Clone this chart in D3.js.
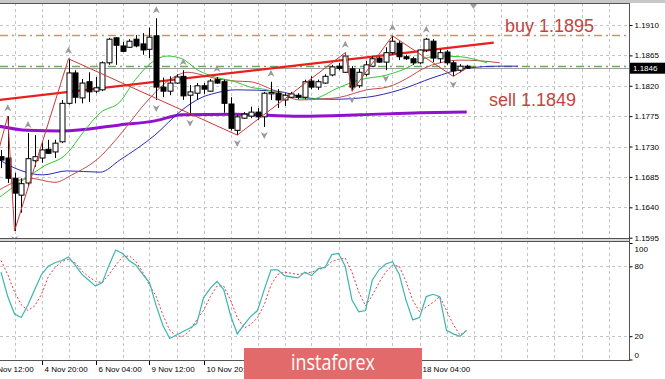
<!DOCTYPE html>
<html><head><meta charset="utf-8">
<script src="https://cdn.jsdelivr.net/npm/d3@7"></script>
<style>body{margin:0;background:#fff}svg{display:block}</style>
</head><body>
<svg id="c" width="665" height="379"></svg>
<script>
// ---------- DATA ----------
const opens  = [1.1715,1.1713,1.1683,1.1658,1.1676,1.1709,1.1713,1.1726,1.1722,1.1737,1.1794,1.1839,1.1802,1.1826,1.1812,1.1814,1.1854,1.1891,1.1879,1.1877,1.1889,1.1882,1.1874,1.1894,1.1818,1.1812,1.1824,1.1834,1.1806,1.1809,1.1820,1.1812,1.1829,1.1826,1.1793,1.1754,1.1772,1.1775,1.1781,1.1774,1.1808,1.1809,1.1799,1.1803,1.1806,1.1803,1.1827,1.1818,1.1824,1.1836,1.1849,1.1840,1.1845,1.1820,1.1837,1.1849,1.1861,1.1855,1.1869,1.1883,1.1863,1.1860,1.1854,1.1873,1.1886,1.1860,1.1870,1.1854,1.1843,1.1849];
const highs  = [1.1725,1.1775,1.1691,1.1683,1.1750,1.1747,1.1737,1.1740,1.1740,1.1799,1.1860,1.1843,1.1830,1.1840,1.1833,1.1856,1.1891,1.1892,1.1885,1.1889,1.1895,1.1898,1.1906,1.1920,1.1832,1.1834,1.1837,1.1843,1.1821,1.1824,1.1824,1.1830,1.1833,1.1829,1.1803,1.1777,1.1781,1.1789,1.1787,1.1811,1.1826,1.1815,1.1809,1.1811,1.1809,1.1829,1.1834,1.1829,1.1837,1.1851,1.1854,1.1869,1.1849,1.1845,1.1857,1.1864,1.1863,1.1877,1.1894,1.1886,1.1866,1.1863,1.1874,1.1891,1.1889,1.1874,1.1873,1.1857,1.1852,1.1851];
const lows   = [1.1698,1.1676,1.1605,1.1632,1.1672,1.1700,1.1706,1.1719,1.1713,1.1735,1.1792,1.1794,1.1794,1.1796,1.1809,1.1812,1.1851,1.1851,1.1870,1.1876,1.1877,1.1866,1.1861,1.1799,1.1803,1.1806,1.1823,1.1799,1.1777,1.1799,1.1808,1.1811,1.1823,1.1780,1.1754,1.1747,1.1771,1.1772,1.1769,1.1759,1.1799,1.1787,1.1790,1.1802,1.1800,1.1800,1.1815,1.1814,1.1823,1.1834,1.1843,1.1839,1.1812,1.1817,1.1834,1.1848,1.1854,1.1843,1.1866,1.1858,1.1858,1.1851,1.1852,1.1870,1.1855,1.1854,1.1851,1.1834,1.1840,1.1845];
const closes = [1.1710,1.1683,1.1661,1.1675,1.1712,1.1715,1.1725,1.1720,1.1735,1.1794,1.1839,1.1803,1.1824,1.1811,1.1817,1.1854,1.1889,1.1880,1.1871,1.1886,1.1879,1.1873,1.1892,1.1818,1.1812,1.1824,1.1833,1.1805,1.1811,1.1820,1.1815,1.1827,1.1824,1.1794,1.1757,1.1774,1.1778,1.1781,1.1774,1.1809,1.1810,1.1799,1.1806,1.1808,1.1803,1.1826,1.1818,1.1826,1.1834,1.1848,1.1846,1.1864,1.1818,1.1840,1.1851,1.1860,1.1855,1.1869,1.1886,1.1863,1.1860,1.1854,1.1873,1.1889,1.1861,1.1869,1.1854,1.1842,1.1849,1.1846];

// Alligator lines (bar index, price) — shifted forward past last bar
const jawIdx   = [-0.2,2.8,6.2,9.8,14.7,17.6,22.8,26.8,29.8,31.7,34.7,40.9,45.3,49.2,54.2,59.1,64,69,73.9,76.6];
const jawVal   = [1.1710,1.1695,1.1688,1.1694,1.1692,1.1710,1.1747,1.1784,1.1803,1.1809,1.1814,1.1812,1.1802,1.1800,1.1803,1.1814,1.1832,1.1846,1.1849,1.1849];
const teethIdx = [-0.2,4.3,8,10.5,14.7,17.6,21.8,25.3,27.7,29.8,31.7,34.7,36.9,40.3,44.3,46.8,50.2,54.2,57.2,61,62.1,65.5,68,71,73.9];
const teethVal = [1.1666,1.1683,1.1677,1.1688,1.1715,1.1747,1.1799,1.1831,1.1840,1.1836,1.1831,1.1827,1.1826,1.1814,1.1799,1.1800,1.1803,1.1814,1.1818,1.1836,1.1843,1.1855,1.1858,1.1857,1.1854];
const lipsIdx  = [-0.2,2.8,6.2,9.8,12.1,14.7,17.6,19.9,22.4,24.7,26.8,29.2,31.7,34.7,36.9,39.4,41.8,44.3,45.8,50.2,53.2,57.2,61,62.1,65,68,71,72];
const lipsVal  = [1.1655,1.1677,1.1700,1.1720,1.1750,1.1780,1.1796,1.1829,1.1855,1.1864,1.1860,1.1843,1.1833,1.1826,1.1818,1.1814,1.1806,1.1802,1.1800,1.1818,1.1829,1.1836,1.1851,1.1858,1.1864,1.1863,1.1857,1.1854];
const maIdx    = [-0.2,3.9,9,17.6,22.8,26.8,34.7,44.3,53.2,62.1,69];
const maVal    = [1.1760,1.1754,1.1753,1.1762,1.1768,1.1777,1.1778,1.1775,1.1777,1.1780,1.1781];
// ZigZag turning points
const zzIdx = [-1,1,2,10,35,51,52,58,67,69];
const zzVal = [1.1700,1.1775,1.1605,1.1860,1.1747,1.1869,1.1812,1.1894,1.1834,1.1846];
// Trend line
const trendIdx = [-0.2,73];
const trendVal = [1.1799,1.1884];
// Fractals
const fracUp   = [1,4,10,23,27,32,40,51,58,63];
const fracDown = [2,23,28,35,39,52,57,67];
// Levels
const buyLevel = 1.1895, sellLevel = 1.1849, bidPrice = 1.1846;
const priceTicks = [1.1595,1.1640,1.1685,1.1730,1.1775,1.1820,1.1865,1.1910];
// Stochastic
const stochMain = [75,54,39,36,47,60,73,80,83,85,88,81,73,68,63,66,81,94,91,85,81,73,66,46,29,18,21,24,27,31,53,61,67,60,38,22,30,37,42,60,77,77,72,71,70,75,72,78,79,90,91,80,51,41,42,68,77,82,84,73,51,34,36,54,56,54,25,22,20,25];
const stochSig  = [85,73,58,47,42,46,56,71,79,84,86,83,76,71,67,66,73,81,88,89,84,75,64,54,38,25,20,20,25,34,42,54,63,63,51,36,27,30,36,47,64,73,75,74,73,74,75,77,79,84,86,87,75,58,46,55,66,75,81,80,67,51,41,45,49,54,42,30,21,25];
const stochTicks = [0,20,80,100];
// Time axis (labels visible outside the watermark)
const timeIdx = [-2,6,14,22,30,62];
const timeLab = ["3 Nov 12:00","4 Nov 20:00","6 Nov 04:00","9 Nov 12:00","10 Nov 20:00","18 Nov 04:00"];

// ---------- LAYOUT ----------
const W=665,H=379, R=629, mainTop=3, mainBot=238, subTop=241, subBot=360;
const svg = d3.select("#c");
const x = d3.scaleLinear().domain([0,69]).range([1,466.75]);
const y = d3.scaleLinear().domain([1.1595,1.1910]).range([237.7,25]);
const s = d3.scaleLinear().domain([0,100]).range([359.5,243]);
const px = v => Math.round(v)+0.5;
const font = "'Liberation Sans', Arial, sans-serif";

svg.append("rect").attr("width",W).attr("height",H).attr("fill","#fff");
svg.append("defs").html(`<clipPath id="cm"><rect x="0" y="${mainTop}" width="${R}" height="${mainBot-mainTop}"/></clipPath>
<clipPath id="cs"><rect x="0" y="${subTop}" width="${R}" height="${subBot-subTop}"/></clipPath>`);

// grid
const gridIdx = d3.range(2,91,4);
const g = svg.append("g").attr("stroke","#c4c4c4").attr("stroke-dasharray","3,3").attr("stroke-width",1);
gridIdx.forEach(i=>{
  g.append("line").attr("x1",px(x(i))).attr("x2",px(x(i))).attr("y1",mainTop).attr("y2",mainBot);
  g.append("line").attr("x1",px(x(i))).attr("x2",px(x(i))).attr("y1",subTop).attr("y2",subBot);
});
priceTicks.slice(1).forEach(p=> g.append("line").attr("x1",0).attr("x2",R).attr("y1",px(y(p))).attr("y2",px(y(p))));
[20,80].forEach(v=> g.append("line").attr("x1",0).attr("x2",R).attr("y1",px(s(v))).attr("y2",px(s(v))));

const main = svg.append("g").attr("clip-path","url(#cm)");

// level lines
main.append("line").attr("x1",0).attr("x2",R).attr("y1",px(y(buyLevel))).attr("y2",px(y(buyLevel)))
  .attr("stroke","#e08a6a").attr("stroke-width",1.3).attr("stroke-dasharray","8,4,2,4");
main.append("line").attr("x1",0).attr("x2",R).attr("y1",px(y(sellLevel))).attr("y2",px(y(sellLevel)))
  .attr("stroke","#6aaa5a").attr("stroke-width",1.3).attr("stroke-dasharray","8,4,2,4");
main.append("line").attr("x1",0).attr("x2",R).attr("y1",px(y(bidPrice))).attr("y2",px(y(bidPrice)))
  .attr("stroke","#a0a0a0").attr("stroke-width",1);

const lineXY = (idx,val)=> d3.line().x((d,k)=>x(idx[k])).y((d,k)=>y(val[k])).curve(d3.curveMonotoneX)(val);
const lineXYs = (idx,val)=> d3.line().x((d,k)=>x(idx[k])).y((d,k)=>y(val[k]))(val);

// purple MA
main.append("path").attr("d",lineXY(maIdx,maVal)).attr("fill","none").attr("stroke","#9410d0").attr("stroke-width",3);
// alligator
main.append("path").attr("d",lineXY(jawIdx,jawVal)).attr("fill","none").attr("stroke","#2a2ab8").attr("stroke-width",1);
main.append("path").attr("d",lineXY(teethIdx,teethVal)).attr("fill","none").attr("stroke","#c84848").attr("stroke-width",1);
main.append("path").attr("d",lineXY(lipsIdx,lipsVal)).attr("fill","none").attr("stroke","#30c830").attr("stroke-width",1);
// trend line
main.append("path").attr("d",lineXYs(trendIdx,trendVal)).attr("fill","none").attr("stroke","#e8201c").attr("stroke-width",2.2);

// candles
const cg = main.append("g");
closes.forEach((c,i)=>{
  const cx = px(x(i)), o=opens[i];
  cg.append("line").attr("x1",cx).attr("x2",cx).attr("y1",y(highs[i])).attr("y2",y(lows[i])).attr("stroke","#000").attr("stroke-width",1);
  const top = y(Math.max(o,c)), bot = y(Math.min(o,c));
  cg.append("rect").attr("x",cx-2.5).attr("y",top).attr("width",5).attr("height",Math.max(1,bot-top))
    .attr("fill", c>=o ? "#fff" : "#000").attr("stroke","#000").attr("stroke-width",1);
});

// zigzag
main.append("path").attr("d",lineXYs(zzIdx,zzVal)).attr("fill","none").attr("stroke","#c83a3a").attr("stroke-width",1);

// fractals
const up = (cx,cy)=>`M${cx},${cy-4}L${cx+3.5},${cy+3}L${cx},${cy+1}L${cx-3.5},${cy+3}Z`;
const dn = (cx,cy)=>`M${cx},${cy+4}L${cx+3.5},${cy-3}L${cx},${cy-1}L${cx-3.5},${cy-3}Z`;
fracUp.forEach(i=> main.append("path").attr("d",up(x(i),y(highs[i])-8)).attr("fill","#9a9a9a"));
fracDown.forEach(i=> main.append("path").attr("d",dn(x(i),y(lows[i])+8)).attr("fill","#9a9a9a"));

// level labels
svg.append("text").attr("x",505).attr("y",32).attr("font-family",font).attr("font-size",18).attr("fill","#bf4640").text("buy "+buyLevel.toFixed(4));
svg.append("text").attr("x",489).attr("y",106).attr("font-family",font).attr("font-size",18).attr("fill","#bf4640").text("sell "+sellLevel.toFixed(4));

// stochastic
const sub = svg.append("g").attr("clip-path","url(#cs)");
const sl = d3.line().x((d,i)=>x(i)).y(d=>s(d));
sub.append("path").attr("d",sl(stochSig)).attr("fill","none").attr("stroke","#e0404a").attr("stroke-width",1).attr("stroke-dasharray","2,2");
sub.append("path").attr("d",sl(stochMain)).attr("fill","none").attr("stroke","#3ab5b0").attr("stroke-width",1.2);

// frames
svg.append("rect").attr("x",0).attr("y",0).attr("width",W).attr("height",3).attr("fill","#c8c8c8");
svg.append("line").attr("x1",0).attr("x2",R+0.5).attr("y1",3.5).attr("y2",3.5).attr("stroke","#555");
svg.append("line").attr("x1",0).attr("x2",R+0.5).attr("y1",238.5).attr("y2",238.5).attr("stroke","#555");
svg.append("rect").attr("x",0).attr("y",239).attr("width",R).attr("height",2).attr("fill","#d8d8d8");
svg.append("line").attr("x1",0).attr("x2",R+0.5).attr("y1",241.5).attr("y2",241.5).attr("stroke","#555");
svg.append("line").attr("x1",0).attr("x2",R+0.5).attr("y1",360.5).attr("y2",360.5).attr("stroke","#555");
svg.append("line").attr("x1",R+0.5).attr("x2",R+0.5).attr("y1",3).attr("y2",361).attr("stroke","#555");
// chart shift marker
svg.append("path").attr("d","M470,4L477,4L473.5,9Z").attr("fill","#a0a0a0");

// price axis
const pa = svg.append("g").attr("transform",`translate(${R+0.5},0)`)
  .call(d3.axisRight(y).tickValues(priceTicks).tickSize(3).tickPadding(2).tickFormat(d3.format(".4f")));
pa.select(".domain").remove();
pa.selectAll("text").attr("font-family",font).attr("font-size",8).attr("fill","#000");
pa.selectAll("line").attr("stroke","#000");
// bid label
svg.append("rect").attr("x",R+1).attr("y",y(bidPrice)-5.5).attr("width",35).attr("height",11).attr("fill","#000");
svg.append("text").attr("x",R+4).attr("y",y(bidPrice)+3).attr("font-family",font).attr("font-size",8).attr("fill","#fff").text(bidPrice.toFixed(4));

// stoch axis
const sa = svg.append("g").attr("transform",`translate(${R+0.5},0)`)
  .call(d3.axisRight(s).tickValues(stochTicks).tickSize(3).tickPadding(2));
sa.select(".domain").remove();
sa.selectAll("text").attr("font-family",font).attr("font-size",8).attr("fill","#000");
sa.selectAll("line").attr("stroke","#000");
sa.selectAll(".tick").filter(d=>d===100).select("text").attr("transform","translate(0,6)");
sa.selectAll(".tick").filter(d=>d===0).select("text").attr("transform","translate(0,-5)");

// time axis
const ta = svg.append("g");
timeIdx.forEach((i,k)=>{
  const tx = px(x(i));
  ta.append("line").attr("x1",tx).attr("x2",tx).attr("y1",361).attr("y2",365).attr("stroke","#000");
  ta.append("text").attr("x",tx+2).attr("y",372).attr("font-family",font).attr("font-size",8).attr("fill","#000").text(timeLab[k]);
});

// watermark banner
svg.append("rect").attr("x",244).attr("y",348).attr("width",178).attr("height",31).attr("fill","#e26a6a");
svg.append("text").attr("x",333).attr("y",369.5).attr("text-anchor","middle").attr("font-family","'Open Sans', sans-serif")
  .attr("font-size",21).attr("fill","#fff").attr("textLength",84).attr("lengthAdjust","spacingAndGlyphs").text("instaforex");
</script>
</body></html>
